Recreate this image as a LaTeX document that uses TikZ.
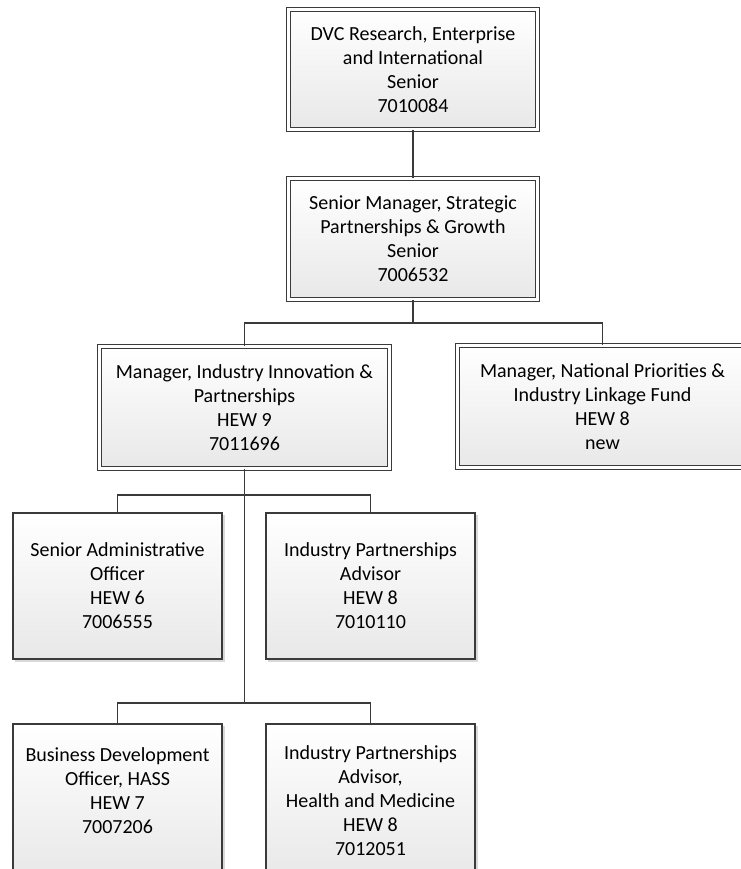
\documentclass[tikz,border=0pt]{standalone}
\usepackage{fontspec}
\setmainfont{Carlito}
\usetikzlibrary{shadows}
\definecolor{ln}{HTML}{3A3A3A}
\definecolor{fillb}{HTML}{E8E8E8}
\begin{document}
\begin{tikzpicture}[x=1pt,y=-1pt,
  box/.style={draw=ln, line width=1.7pt, top color=white, bottom color=fillb,
    align=center, font=\fontsize{20}{24}\selectfont, inner sep=0pt,
    drop shadow={shadow xshift=2.5pt, shadow yshift=-2.5pt, fill=black, opacity=0.15}},
  sbox/.style={box, minimum width=209.3pt, minimum height=146.3pt},
  tbox/.style={box, minimum width=209.3pt, minimum height=154.3pt},
  dbox/.style={box, line width=1.5pt, double=white, double distance=2.2pt},
  conn/.style={draw=ln, line width=1.8pt}
]
\useasboundingbox (0,0) rectangle (740,869);
\node[dbox, minimum width=249pt, minimum height=120pt] (n1) at (413,69.5)
  {DVC Research, Enterprise\\and International\\Senior\\7010084};
\node[dbox, minimum width=249pt, minimum height=121pt] (n2) at (413,239)
  {Senior Manager, Strategic\\Partnerships \& Growth\\Senior\\7006532};
\node[dbox, minimum width=290pt, minimum height=122pt] (n3) at (244.5,407.5)
  {Manager, Industry Innovation \&\\Partnerships\\HEW 9\\7011696};
\node[dbox, minimum width=290pt, minimum height=122pt] (n4) at (602.5,406.5)
  {Manager, National Priorities \&\\Industry Linkage Fund\\HEW 8\\new};
\node[sbox] (n5) at (117.5,586) {Senior Administrative\\Officer\\HEW 6\\7006555};
\node[sbox] (n6) at (370.5,586) {Industry Partnerships\\Advisor\\HEW 8\\7010110};
\node[tbox] (n7) at (117.5,801) {Business Development\\Officer, HASS\\HEW 7\\7007206\\[-10pt]\strut};
\node[tbox] (n8) at (370.5,801) {Industry Partnerships\\Advisor,\\Health and Medicine\\HEW 8\\7012051};
\coordinate (b1) at (413,323);
\coordinate (b2) at (244.5,495);
\coordinate (b3) at (244.5,703);
\draw[conn] (n1.south) -- (n2.north);
\draw[conn] (n2.south) -- (b1);
\draw[conn] (n3.north) |- (b1) -| (n4.north);
\draw[conn] (n3.south) -- (b3);
\draw[conn] (n5.north) |- (b2) -| (n6.north);
\draw[conn] (n7.north) |- (b3) -| (n8.north);
\end{tikzpicture}
\end{document}
